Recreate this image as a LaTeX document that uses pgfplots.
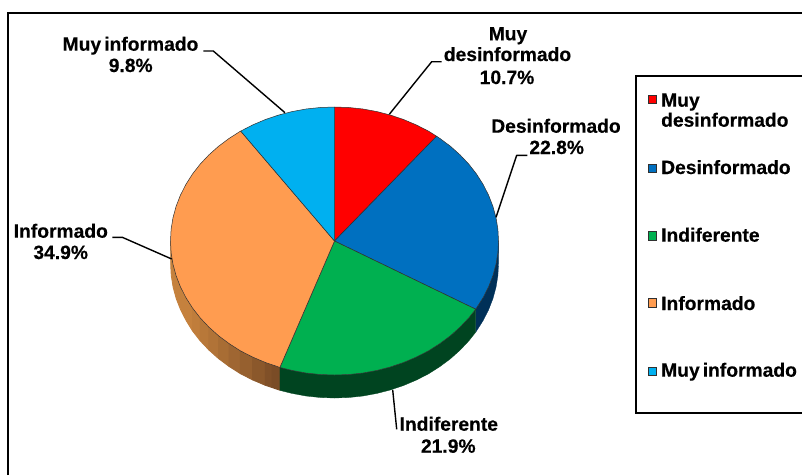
\documentclass[border=0pt]{standalone}
\usepackage{pgfplots}
\pgfplotsset{compat=1.18}
\usepackage{fontspec}
\setmainfont{Liberation Sans}[BoldFeatures={FakeBold=0.4}]
\definecolor{cRed}{HTML}{FF0000}
\definecolor{cBlue}{HTML}{0070C0}
\definecolor{cGreen}{HTML}{00B050}
\definecolor{cOrange}{HTML}{FF9C50}
\definecolor{cSky}{HTML}{00B0F0}
\definecolor{wBlue}{HTML}{003058}
\definecolor{wGreen}{HTML}{004420}
\definecolor{wO1}{HTML}{7A4C26}
\definecolor{wO5}{HTML}{C5813D}
\definecolor{edge}{HTML}{303030}
\newcommand{\lab}{\fontsize{19.25}{22}\selectfont\bfseries}
\tikzset{
  txt/.style={font=\lab,text=black,inner sep=0pt,anchor=base},
  txtl/.style={font=\lab,text=black,inner sep=0pt,anchor=base west},
  slice/.style={draw=edge,line width=0.5pt,line join=round},
  wall/.style={line width=0.3pt,line join=round},
  wo/.style={line width=0.9pt,line join=round,fill=wO5!#1!wO1,draw=wO5!#1!wO1},
  leader/.style={draw=black,line width=1.4pt,line join=round},
  lm/.style={only marks,mark=square*,mark size=4.4pt,mark options={fill=#1,draw=edge,line width=1.1pt}}
}
\begin{document}
\begin{tikzpicture}
\useasboundingbox (0,0) rectangle (802pt,475pt);
\begin{axis}[
  at={(0pt,0pt)},anchor=south west,
  scale only axis,width=802pt,height=475pt,
  xmin=0,xmax=802,ymin=0,ymax=475,y dir=reverse,
  axis lines=none,clip=false]

% frame
\addplot[draw=black,line width=1.3pt] coordinates {(8,475) (8,13) (802,13)};

% walls
\addplot[wall,fill=wBlue,draw=wBlue] coordinates {
(498.5,241.0)(497.9,252.7)(496.0,264.3)(492.9,275.7)(488.6,286.8)(483.1,297.6)(476.5,308.0)(475.7,309.2)
(475.7,332.2)(476.5,331.0)(483.1,320.6)(488.6,309.8)(492.9,298.7)(496.0,287.3)(497.9,275.7)(498.5,264.0)} --cycle;
\addplot[wo=100] coordinates {
(192.5,308.0)(185.9,297.6)(180.4,286.8)(176.1,275.7)(173.0,264.3)(171.1,252.7)(170.7,241.0)(170.7,264.0)(171.3,275.7)(173.2,287.3)(176.3,298.7)(180.6,309.6)(186.1,320.4)(192.5,330.8)} --cycle;
\addplot[wo=93] coordinates {(200.2,317.9)(192.5,308.0)(192.5,330.8)(200.2,340.7)} --cycle;
\addplot[wo=83] coordinates {(208.9,327.1)(200.2,317.9)(200.2,340.7)(208.9,349.9)} --cycle;
\addplot[wo=73] coordinates {(218.5,335.7)(208.9,327.1)(208.9,349.9)(218.5,358.5)} --cycle;
\addplot[wo=62] coordinates {(229.1,343.6)(218.5,335.7)(218.5,358.5)(229.1,366.4)} --cycle;
\addplot[wo=50] coordinates {(240.4,350.8)(229.1,343.6)(229.1,366.4)(240.4,373.6)} --cycle;
\addplot[wo=38] coordinates {(252.5,357.0)(240.4,350.8)(240.4,373.6)(252.5,379.8)} --cycle;
\addplot[wo=23] coordinates {(265.2,362.4)(252.5,357.0)(252.5,379.8)(265.2,385.2)} --cycle;
\addplot[wo=8] coordinates {(272,364.7)(265.2,362.4)(265.2,385.2)(272,387.5)} --cycle;
\addplot[wo=0] coordinates {(279.9,367.4)(272,364.7)(272,387.5)(279.9,390.2)} --cycle;
\addplot[wall,fill=wGreen,draw=wGreen] coordinates {
(475.7,309.2)(468.8,317.9)(460.1,327.1)(450.5,335.7)(439.9,343.6)(428.6,350.8)(416.5,357.0)(403.8,362.4)(390.6,366.9)(377.0,370.4)(363.0,373.0)(348.8,374.5)(334.5,375.0)(320.2,374.5)(306.0,373.0)(292.0,370.4)(279.9,367.4)
(279.9,390.4)(292.0,393.4)(306.0,396.0)(320.2,397.5)(334.5,398.0)(348.8,397.5)(363.0,396.0)(377.0,393.4)(390.6,389.9)(403.8,385.4)(416.5,380.0)(428.6,373.8)(439.9,366.6)(450.5,358.7)(460.1,350.1)(468.8,340.9)(475.7,332.2)} --cycle;

% top faces
\addplot[slice,fill=cRed] coordinates {
(334.5,241.0)(334.5,107.0)(348.8,107.5)(363.0,109.0)(377.0,111.6)(390.6,115.1)(403.8,119.6)(416.5,125.0)(428.6,131.2)(436.6,136.2)} --cycle;
\addplot[slice,fill=cBlue] coordinates {
(334.5,241.0)(436.6,136.2)(439.9,138.4)(450.5,146.3)(460.1,154.9)(468.8,164.1)(476.5,174.0)(483.1,184.4)(488.6,195.2)(492.9,206.3)(496.0,217.7)(497.9,229.3)(498.5,241.0)(497.9,252.7)(496.0,264.3)(492.9,275.7)(488.6,286.8)(483.1,297.6)(476.5,308.0)(475.7,309.2)} --cycle;
\addplot[slice,fill=cGreen] coordinates {
(334.5,241.0)(475.7,309.2)(468.8,317.9)(460.1,327.1)(450.5,335.7)(439.9,343.6)(428.6,350.8)(416.5,357.0)(403.8,362.4)(390.6,366.9)(377.0,370.4)(363.0,373.0)(348.8,374.5)(334.5,375.0)(320.2,374.5)(306.0,373.0)(292.0,370.4)(279.9,367.4)} --cycle;
\addplot[slice,fill=cOrange] coordinates {
(334.5,241.0)(279.9,367.4)(278.4,366.9)(265.2,362.4)(252.5,357.0)(240.4,350.8)(229.1,343.6)(218.5,335.7)(208.9,327.1)(200.2,317.9)(192.5,308.0)(185.9,297.6)(180.4,286.8)(176.1,275.7)(173.0,264.3)(171.1,252.7)(170.5,241.0)(171.1,229.3)(173.0,217.7)(176.1,206.3)(180.4,195.2)(185.9,184.4)(192.5,174.0)(200.2,164.1)(208.9,154.9)(218.5,146.3)(229.1,138.4)(240.4,131.2)(240.7,131.1)} --cycle;
\addplot[slice,fill=cSky] coordinates {
(334.5,241.0)(240.7,131.1)(252.5,125.0)(265.2,119.6)(278.4,115.1)(292.0,111.6)(306.0,109.0)(320.2,107.5)(334.5,107.0)} --cycle;

% leaders
\addplot[leader] coordinates {(203.3,51)(213.3,51)(285,112.7)};
\addplot[leader] coordinates {(389.3,114.3)(431.7,61.7)(441.7,61.7)};
\addplot[leader] coordinates {(496,217.3)(516.7,155.3)(527.3,155.3)};
\addplot[leader] coordinates {(171.7,259)(122.3,237.3)(112.3,237.3)};
\addplot[leader] coordinates {(392.7,390)(396.7,429.3)};

% legend box
\addplot[draw=black,line width=1.2pt] coordinates {(802,76)(636,76)(636,413)(802,413)};

% legend markers
\addplot[lm=cRed] coordinates {(652.5,99.5)};
\addplot[lm=cBlue] coordinates {(652.5,168.5)};
\addplot[lm=cGreen] coordinates {(652.5,236)};
\addplot[lm=cOrange] coordinates {(652.5,303)};
\addplot[lm=cSky] coordinates {(652.5,371.5)};

% legend text
\node[txtl] at (axis cs:661,106.7) {Muy};
\node[txtl] at (axis cs:661,126.7) {desinformado};
\node[txtl] at (axis cs:661,174) {Desinformado};
\node[txtl] at (axis cs:661,241.7) {Indiferente};
\node[txtl] at (axis cs:661,310) {Informado};
\node[txtl] at (axis cs:661,376.7) {Muy\hspace{0.16em}informado};

% data labels
\node[txt] at (axis cs:130.5,50.7) {Muy\hspace{0.16em}informado};
\node[txt] at (axis cs:130.7,72) {9.8\%};
\node[txt] at (axis cs:508,40.3) {Muy};
\node[txt] at (axis cs:507.5,61) {desinformado};
\node[txt] at (axis cs:507,84) {10.7\%};
\node[txt] at (axis cs:556,132.7) {Desinformado};
\node[txt] at (axis cs:556.7,154) {22.8\%};
\node[txt] at (axis cs:60.8,237.7) {Informado};
\node[txt] at (axis cs:60.7,259) {34.9\%};
\node[txt] at (axis cs:448.8,430.7) {Indiferente};
\node[txt] at (axis cs:448.3,452.7) {21.9\%};
\end{axis}
\end{tikzpicture}
\end{document}
